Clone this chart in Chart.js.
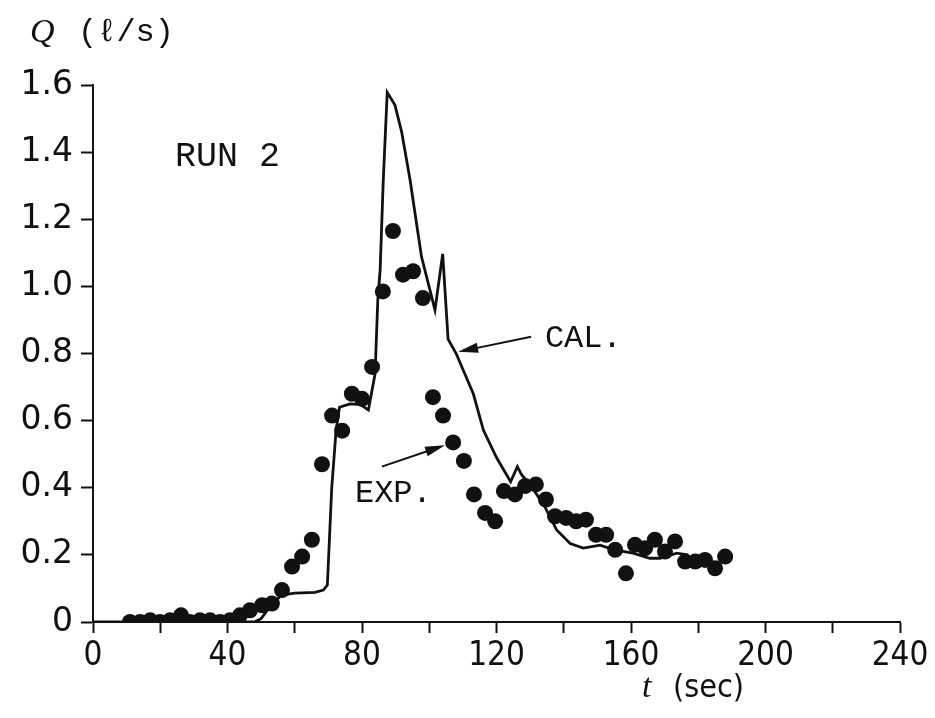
<!DOCTYPE html>
<html>
<head>
<meta charset="utf-8">
<script src="https://cdn.jsdelivr.net/npm/chart.js@4.4.1/dist/chart.umd.min.js"></script>
<style>
  html, body { margin: 0; padding: 0; background: #fff; }
  #chart { display: block; }
</style>
</head>
<body>
<canvas id="chart" width="935" height="718"></canvas>
<script>
// ---- data ----
// measured (EXP.) discharge, t in sec, Q in l/s
const expT = [11.0, 14.0, 17.0, 19.9, 22.9, 26.2, 28.8, 31.8, 34.8, 37.8,
              40.7, 43.7, 46.7, 50.3, 53.2, 56.2, 59.2, 62.2, 65.1, 68.1,
              71.1, 74.1, 77.0, 80.0, 83.0, 86.2, 89.2, 92.2, 95.2, 98.1,
              101.1, 104.1, 107.1, 110.3, 113.3, 116.6, 119.6, 122.2, 125.5, 128.5,
              131.7, 134.7, 137.4, 140.7, 143.7, 146.6, 149.6, 152.6, 155.3, 158.5,
              161.2, 164.2, 167.1, 170.1, 173.1, 176.1, 179.1, 182.0, 185.0, 188.0];
const expQ = [0, 0, 0.005, 0, 0.005, 0.02, 0, 0.005, 0.005, 0,
              0.005, 0.02, 0.035, 0.05, 0.055, 0.095, 0.165, 0.195, 0.245, 0.47,
              0.615, 0.57, 0.68, 0.665, 0.76, 0.985, 1.165, 1.035, 1.045, 0.965,
              0.67, 0.615, 0.535, 0.48, 0.38, 0.325, 0.30, 0.39, 0.38, 0.405,
              0.41, 0.365, 0.315, 0.31, 0.30, 0.305, 0.26, 0.26, 0.215, 0.145,
              0.23, 0.22, 0.245, 0.21, 0.24, 0.18, 0.18, 0.185, 0.16, 0.195];

// calculated (CAL.) hydrograph
const calT = [0, 48, 50, 53, 56, 60, 66, 68.5, 69.7, 71,
              72.3, 73.3, 76.4, 79.5, 81.9, 83.9, 84.7, 85.4, 86.3, 87.5,
              89.8, 91.8, 94.3, 97.7, 101.7, 104, 105.6, 108, 113.1, 116.1,
              120, 124.2, 126.2, 127.5, 130, 134.4, 137.9, 141.9, 145.8, 150.8,
              155, 160.6, 165.6, 168.6, 173.6, 177];
const calQ = [0, 0, 0.01, 0.05, 0.08, 0.086, 0.088, 0.095, 0.11, 0.4,
              0.572, 0.64, 0.65, 0.648, 0.632, 0.74, 0.96, 1.05, 1.31, 1.578,
              1.54, 1.46, 1.317, 1.088, 0.93, 1.097, 0.843, 0.80, 0.68, 0.572,
              0.49, 0.418, 0.463, 0.438, 0.41, 0.343, 0.274, 0.234, 0.22, 0.229,
              0.215, 0.205, 0.19, 0.19, 0.205, 0.2];

// axes
const xTicks = [0, 40, 80, 120, 160, 200, 240];
const yTicks = ['0', '0.2', '0.4', '0.6', '0.8', '1.0', '1.2', '1.4', '1.6'];

// annotations, in data units [t, Q]
const runLabel = { text: 'RUN 2', at: [24.4, 1.386] };
const calLabel = { text: 'CAL.', at: [134.4, 0.846], arrowFrom: [130.3, 0.85], arrowTo: [108.6, 0.805] };
const expLabel = { text: 'EXP.', at: [77.9, 0.384], arrowFrom: [85.9, 0.463], arrowTo: [104.7, 0.527] };

const INK = '#111';
const MONO = '"Liberation Mono", "DejaVu Sans Mono", monospace';

function drawArrow(ctx, x1, y1, x2, y2) {
  const a = Math.atan2(y2 - y1, x2 - x1);
  const len = 20, half = 5;
  ctx.beginPath();
  ctx.moveTo(x1, y1);
  ctx.lineTo(x2 - Math.cos(a) * len * 0.6, y2 - Math.sin(a) * len * 0.6);
  ctx.lineWidth = 2;
  ctx.stroke();
  ctx.beginPath();
  ctx.moveTo(x2, y2);
  ctx.lineTo(x2 - Math.cos(a) * len + Math.sin(a) * half, y2 - Math.sin(a) * len - Math.cos(a) * half);
  ctx.lineTo(x2 - Math.cos(a) * len - Math.sin(a) * half, y2 - Math.sin(a) * len + Math.cos(a) * half);
  ctx.closePath();
  ctx.fill();
}

const labelsPlugin = {
  id: 'labels',
  afterDatasetsDraw(chart) {
    const { ctx, scales: { x, y }, chartArea } = chart;
    const px = p => [x.getPixelForValue(p[0]), y.getPixelForValue(p[1])];
    ctx.save();
    ctx.fillStyle = INK;
    ctx.strokeStyle = INK;
    ctx.textBaseline = 'middle';
    ctx.textAlign = 'left';

    // y axis title
    ctx.font = 'italic 34px "Liberation Serif", serif';
    ctx.fillText('Q', chartArea.left - 63, 33);
    ctx.font = '32px ' + MONO;
    ctx.fillText('(ℓ/s)', chartArea.left - 15, 33);

    // x axis title
    ctx.font = 'italic 34px "Liberation Serif", serif';
    ctx.fillText('t', chartArea.left + 549, 688);
    ctx.font = '32px "DejaVu Sans Condensed", "DejaVu Sans", sans-serif';
    ctx.fillText('(sec)', chartArea.left + 580, 689);

    // annotations
    ctx.font = '35px ' + MONO;
    let p = px(runLabel.at);
    ctx.fillText(runLabel.text, p[0], p[1]);

    ctx.font = '32px ' + MONO;
    [calLabel, expLabel].forEach(l => {
      const q = px(l.at);
      ctx.fillText(l.text, q[0], q[1]);
      const a = px(l.arrowFrom), b = px(l.arrowTo);
      drawArrow(ctx, a[0], a[1], b[0], b[1]);
    });
    ctx.restore();
  }
};

Chart.defaults.color = INK;

new Chart(document.getElementById('chart'), {
  type: 'scatter',
  data: {
    datasets: [
      {
        label: 'CAL.',
        type: 'line',
        data: calT.map((t, i) => ({ x: t, y: calQ[i] })),
        borderColor: INK,
        borderWidth: 2.8,
        pointRadius: 0,
        tension: 0,
        fill: false,
        order: 2
      },
      {
        label: 'EXP.',
        data: expT.map((t, i) => ({ x: t, y: expQ[i] })),
        backgroundColor: INK,
        borderColor: INK,
        pointRadius: 8,
        pointBorderWidth: 0,
        order: 1
      }
    ]
  },
  options: {
    responsive: false,
    animation: false,
    devicePixelRatio: 1,
    layout: { padding: { left: 0, top: 85, right: 35, bottom: 0 } },
    plugins: {
      legend: { display: false },
      tooltip: { enabled: false }
    },
    scales: {
      x: {
        type: 'linear',
        min: 0, max: 240,
        afterFit: s => { s.height = 96; },
        border: { display: true, color: INK, width: 2 },
        grid: { drawOnChartArea: false, drawTicks: true, tickLength: 11, tickWidth: 2, tickColor: INK },
        ticks: {
          stepSize: 20,
          padding: 4,
          maxRotation: 0,
          autoSkip: false,
          color: INK,
          font: { family: '"DejaVu Sans Condensed", "Liberation Sans Narrow", "DejaVu Sans", sans-serif', size: 33 },
          callback: v => xTicks.includes(v) ? String(v) : ''
        }
      },
      y: {
        type: 'linear',
        min: 0, max: 1.6,
        afterFit: s => { s.width = 93; },
        border: { display: true, color: INK, width: 2 },
        grid: { drawOnChartArea: false, drawTicks: true, tickLength: 12, tickWidth: 2, tickColor: INK },
        ticks: {
          stepSize: 0.2,
          padding: 8,
          autoSkip: false,
          color: INK,
          font: { family: '"DejaVu Sans", sans-serif', size: 33 },
          callback: (v, i) => yTicks[i]
        }
      }
    }
  },
  plugins: [labelsPlugin]
});
</script>
</body>
</html>
